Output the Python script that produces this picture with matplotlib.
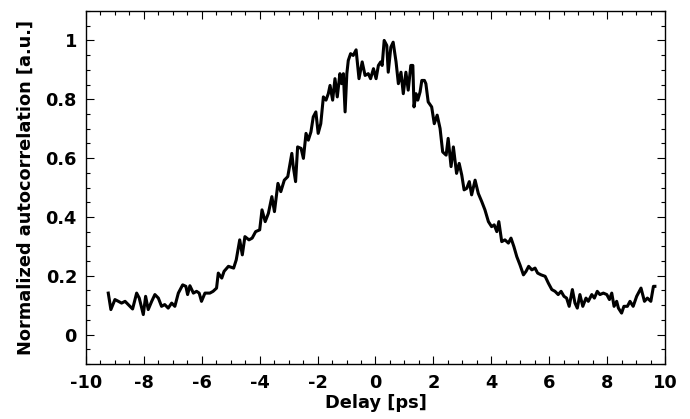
import numpy as np
import matplotlib.pyplot as plt
from matplotlib.ticker import MultipleLocator

# Autocorrelation trace
delay = [
    -9.23, -9.14, -9.00, -8.88, -8.77, -8.65, -8.48, -8.39, -8.25, -8.16,
    -8.02, -7.94, -7.85, -7.73, -7.62, -7.50, -7.39, -7.28, -7.16, -7.04,
    -6.93, -6.81, -6.66, -6.55, -6.49, -6.41, -6.29, -6.18, -6.09, -6.01,
    -5.89, -5.72, -5.61, -5.49, -5.43, -5.31, -5.23, -5.08, -4.90, -4.81,
    -4.69, -4.60, -4.51, -4.37, -4.26, -4.14, -4.00, -3.92, -3.81, -3.70,
    -3.58, -3.49, -3.37, -3.27, -3.15, -3.03, -2.89, -2.84, -2.76, -2.69,
    -2.57, -2.49, -2.40, -2.32, -2.23, -2.15, -2.06, -1.98, -1.89, -1.80,
    -1.71, -1.63, -1.57, -1.48, -1.40, -1.32, -1.23, -1.17, -1.11, -1.05,
    -0.99, -0.94, -0.86, -0.77, -0.67, -0.57, -0.46, -0.36, -0.25, -0.17,
    -0.07, 0.02, 0.10, 0.18, 0.23, 0.30, 0.39, 0.44, 0.53, 0.61,
    0.71, 0.79, 0.88, 0.96, 1.05, 1.13, 1.22, 1.29, 1.33, 1.40,
    1.46, 1.54, 1.60, 1.69, 1.74, 1.82, 1.94, 2.03, 2.13, 2.23,
    2.32, 2.44, 2.51, 2.61, 2.69, 2.80, 2.89, 2.98, 3.06, 3.15,
    3.24, 3.32, 3.44, 3.55, 3.67, 3.78, 3.90, 4.01, 4.10, 4.19,
    4.26, 4.36, 4.47, 4.59, 4.68, 4.78, 4.88, 4.99, 5.11, 5.20,
    5.29, 5.40, 5.51, 5.60, 5.72, 5.86, 5.97, 6.09, 6.20, 6.31,
    6.41, 6.51, 6.60, 6.69, 6.80, 6.89, 6.97, 7.06, 7.16, 7.27,
    7.35, 7.47, 7.56, 7.66, 7.75, 7.87, 7.99, 8.08, 8.16, 8.24,
    8.33, 8.39, 8.50, 8.58, 8.70, 8.79, 8.90, 9.02, 9.17, 9.29,
    9.39, 9.51, 9.60, 9.65,
]
signal = [
    0.141, 0.085, 0.119, 0.113, 0.107, 0.113, 0.096, 0.087, 0.141, 0.124,
    0.068, 0.130, 0.085, 0.113, 0.136, 0.124, 0.096, 0.102, 0.090, 0.107,
    0.096, 0.141, 0.169, 0.164, 0.136, 0.166, 0.141, 0.147, 0.141, 0.113,
    0.141, 0.141, 0.147, 0.158, 0.209, 0.192, 0.215, 0.232, 0.226, 0.254,
    0.322, 0.271, 0.333, 0.322, 0.328, 0.350, 0.356, 0.424, 0.384, 0.412,
    0.469, 0.418, 0.514, 0.486, 0.525, 0.537, 0.616, 0.571, 0.520, 0.638,
    0.633, 0.599, 0.684, 0.661, 0.689, 0.740, 0.757, 0.684, 0.717, 0.808,
    0.797, 0.819, 0.847, 0.797, 0.870, 0.808, 0.887, 0.853, 0.887, 0.757,
    0.887, 0.932, 0.955, 0.949, 0.968, 0.870, 0.927, 0.881, 0.887, 0.870,
    0.904, 0.870, 0.915, 0.927, 0.915, 1.000, 0.983, 0.892, 0.977, 0.994,
    0.927, 0.853, 0.892, 0.819, 0.892, 0.831, 0.915, 0.915, 0.774, 0.819,
    0.797, 0.825, 0.864, 0.864, 0.853, 0.791, 0.774, 0.717, 0.746, 0.701,
    0.621, 0.610, 0.667, 0.571, 0.638, 0.548, 0.582, 0.542, 0.492, 0.497,
    0.520, 0.475, 0.525, 0.480, 0.452, 0.424, 0.384, 0.367, 0.373, 0.350,
    0.384, 0.316, 0.322, 0.311, 0.328, 0.299, 0.265, 0.237, 0.203, 0.215,
    0.232, 0.220, 0.226, 0.209, 0.203, 0.198, 0.175, 0.153, 0.147, 0.136,
    0.147, 0.130, 0.124, 0.096, 0.153, 0.107, 0.090, 0.136, 0.096, 0.124,
    0.113, 0.136, 0.124, 0.147, 0.136, 0.141, 0.136, 0.119, 0.141, 0.096,
    0.113, 0.090, 0.073, 0.096, 0.096, 0.113, 0.096, 0.130, 0.158, 0.113,
    0.124, 0.113, 0.164, 0.164,
]

plt.rcParams['font.family'] = ['DejaVu Sans']
plt.rcParams['font.weight'] = 'bold'
plt.rcParams['axes.unicode_minus'] = False

fig = plt.figure(figsize=(6.9, 4.19), dpi=100)
ax = fig.add_axes([0.1246, 0.1313, 0.8392, 0.8424])

ax.plot(delay, signal, color='black', linewidth=2.2)

ax.set_xlim(-10, 10)
ax.set_ylim(-0.1, 1.1)
ax.xaxis.set_major_locator(MultipleLocator(2))
ax.xaxis.set_minor_locator(MultipleLocator(0.5))
ax.set_yticks([0, 0.2, 0.4, 0.6, 0.8, 1])
ax.set_yticklabels(['0', '0.2', '0.4', '0.6', '0.8', '1'])
ax.yaxis.set_minor_locator(MultipleLocator(0.05))

ax.tick_params(which='both', direction='in', top=True, right=True,
               width=0.8, labelsize=12.8)
ax.tick_params(axis='x', pad=7.5)
ax.tick_params(axis='y', pad=6.5)
ax.tick_params(which='major', length=6)
ax.tick_params(which='minor', length=3)
for s in ax.spines.values():
    s.set_linewidth(1.0)

ax.set_xlabel("Delay [ps]", fontsize=12.8, fontweight='bold', labelpad=1)
ax.set_ylabel("Normalized autocorrelation [a.u.]", fontsize=12.8,
              fontweight='bold', labelpad=8)

fig.savefig("out.png", dpi=100)
